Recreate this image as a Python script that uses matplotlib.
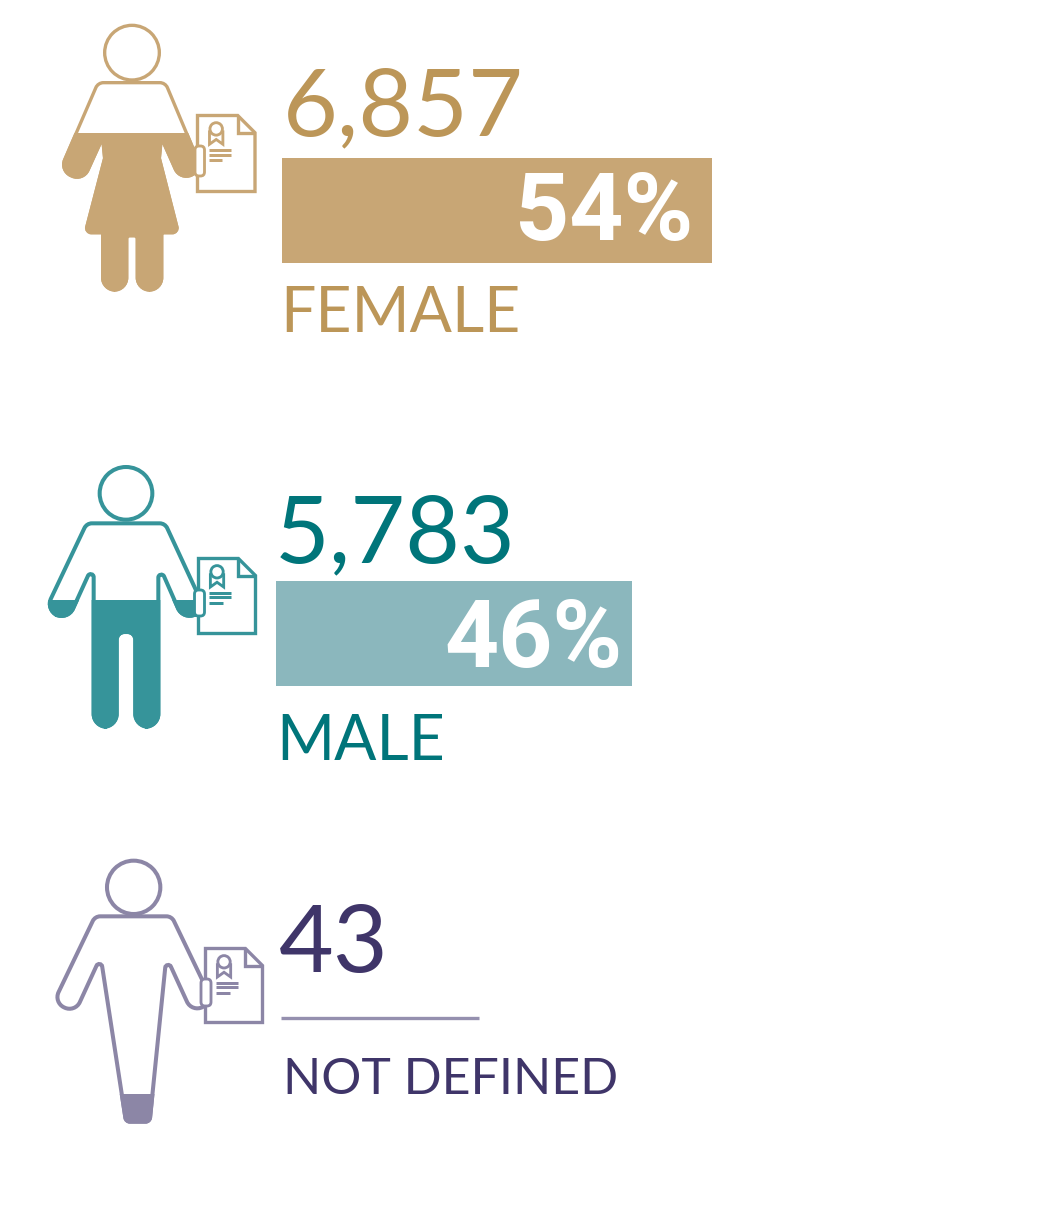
from matplotlib import pyplot as plt
from matplotlib.path import Path
from matplotlib.patches import PathPatch, Circle, Rectangle, FancyBboxPatch
import numpy as np

counts = ['6,857', '5,783', '43']
percents = [54, 46]
percent_labels = ['54%', '46%']
labels = ['FEMALE', 'MALE', 'NOT DEFINED']

FIG_COLORS = ['#C8A675', '#36949A', '#8C86A6']
TEXT_COLORS = ['#BC9658', '#00757A', '#3F3569']
BAR_COLORS = ['#C8A675', '#8BB7BD']
FONT = 'Lato'

W, H = 1063, 1217


def rounded(points):
    # closed polygon, every vertex is (x, y, radius)
    pts = np.array([p[:2] for p in points], dtype=float)
    rad = [p[2] for p in points]
    n = len(pts)
    verts, codes = [], []
    for i in range(n):
        v = pts[i]
        a = pts[i - 1] - v
        b = pts[(i + 1) % n] - v
        a = a / np.hypot(*a)
        b = b / np.hypot(*b)
        turn = np.pi - np.arccos(np.clip(a @ b, -1, 1))
        r = rad[i]
        if r == 0:
            t1, t2 = v, v
            c1, c2 = v, v
        else:
            d = r * np.tan(turn / 2)
            k = 4 / 3 * np.tan(turn / 4) * r
            t1, t2 = v + a * d, v + b * d
            c1, c2 = t1 - a * k, t2 - b * k
        verts.append(t1)
        codes.append(Path.MOVETO if i == 0 else Path.LINETO)
        verts += [c1, c2, t2]
        codes += [Path.CURVE4] * 3
    verts.append(verts[0])
    codes.append(Path.CLOSEPOLY)
    return Path(verts, codes)


def person(ax, outline, head, cut, color, lw, offset):
    # outline and head come in zoom crop units: 3 units per pixel
    pts = [((x / 3 + offset[0]), (y / 3 + offset[1]), r / 3) for x, y, r in outline]
    path = rounded(pts)
    ax.add_patch(PathPatch(path, facecolor='white', edgecolor='none', zorder=2))
    fill = PathPatch(path, facecolor=color, edgecolor=color, lw=lw, zorder=3)
    ax.add_patch(fill)
    fill.set_clip_path(Rectangle((0, cut / 3 + offset[1]), W, H, transform=ax.transData))
    ax.add_patch(PathPatch(path, facecolor='none', edgecolor=color, lw=lw, zorder=3))
    ax.add_patch(Circle((head[0] / 3 + offset[0], head[1] / 3 + offset[1]), head[2] / 3,
                        facecolor='white', edgecolor=color, lw=lw, zorder=4))


def path_patch(pts, color, lw, closed=True):
    codes = [Path.MOVETO] + [Path.LINETO] * (len(pts) - 1)
    verts = list(pts)
    if closed:
        verts.append(pts[0])
        codes.append(Path.CLOSEPOLY)
    return PathPatch(Path(verts, codes), facecolor='white' if closed else 'none', edgecolor=color, lw=lw,
                     zorder=5, joinstyle='miter')


def document(ax, x, y, w, h, grip, color, lw=2.4):
    s = w / 60.0
    fold = 18 * s
    ax.add_patch(path_patch([(x, y), (x + w - fold, y), (x + w, y + fold), (x + w, y + h), (x, y + h)],
                            color, lw))
    ax.add_patch(path_patch([(x + w - fold, y), (x + w - fold, y + fold), (x + w, y + fold)], color, lw, False))
    cx, cy = x + 19.5 * s, y + 14 * s
    rib = [(cx - 7 * s, cy + 3 * s), (cx - 7 * s, cy + 16 * s), (cx, cy + 11 * s),
           (cx + 7 * s, cy + 16 * s), (cx + 7 * s, cy + 3 * s)]
    ax.plot(*zip(*rib), color=color, lw=lw * 0.85, zorder=5, solid_joinstyle='miter')
    ax.add_patch(Circle((cx, cy), 6.5 * s, facecolor='white', edgecolor=color, lw=lw * 0.85, zorder=6))
    for dy, dx in zip((36, 41, 46.5), (23, 23, 14)):
        ax.plot([x + 11.5 * s, x + (11.5 + dx) * s], [y + dy * s, y + dy * s], color=color, lw=lw * 0.9,
                zorder=6, solid_capstyle='butt')
    gx, gy, gw, gh = grip
    ax.add_patch(FancyBboxPatch((gx + 3, gy + 3), gw - 6, gh - 6, boxstyle='round,pad=3,rounding_size=4',
                                facecolor='white', edgecolor=color, lw=lw * 0.85, zorder=7))


def add_bar(fig, left, top, right, bottom, value, color):
    bar_ax = fig.add_axes([left / W, 1 - bottom / H, (right - left) / W, (bottom - top) / H], zorder=0)
    bar_ax.barh([0], [value], height=1, color=color)
    bar_ax.set_xlim(0, value)
    bar_ax.set_ylim(-0.5, 0.5)
    bar_ax.axis('off')


FEMALE_SHAPE = [(174, 218, 25), (376, 218, 25), (486, 480, 36), (421, 511, 36), (364, 383, 1), (358, 445, 0),
                (415, 668, 14), (365, 668, 3), (365, 840, 37), (292, 840, 37), (292, 677, 9), (260, 677, 9),
                (260, 840, 37), (188, 840, 37), (188, 668, 3), (136, 668, 14), (194, 445, 0), (188, 383, 1),
                (129, 513, 36), (60, 482, 36)]
MALE_SHAPE = [(170, 220, 25), (405, 220, 25), (525, 479, 38), (460, 511, 38), (385, 340, 9), (385, 830, 38),
              (316, 830, 38), (316, 546, 23), (260, 546, 23), (260, 830, 38), (191, 830, 38), (191, 340, 9),
              (113, 511, 38), (47, 479, 38)]
OTHER_SHAPE = [(165, 214, 25), (395, 214, 25), (518, 470, 34), (456, 503, 34), (379, 335, 9), (329, 830, 14),
               (258, 830, 14), (182, 335, 9), (105, 503, 34), (41, 472, 34)]

fig = plt.figure(figsize=(W / 100, H / 100), dpi=100, facecolor='white')
add_bar(fig, 282, 158, 712, 263, percents[0], BAR_COLORS[0])
add_bar(fig, 276, 581, 632, 686, percents[1], BAR_COLORS[1])

ax = fig.add_axes([0, 0, 1, 1], zorder=1)
ax.set_xlim(0, W)
ax.set_ylim(H, 0)
ax.axis('off')
ax.patch.set_alpha(0)

person(ax, FEMALE_SHAPE, (276, 128, 82), 370, FIG_COLORS[0], 2.4, (40, 10))
document(ax, 197.5, 115.5, 57.5, 76, (195, 146, 9.5, 30), FIG_COLORS[0])
person(ax, MALE_SHAPE, (288, 130, 79), 450, FIG_COLORS[1], 2.9, (30, 450))
document(ax, 198.5, 558.5, 57, 75, (194.5, 590, 10, 26), FIG_COLORS[1])
person(ax, OTHER_SHAPE, (281, 127, 80), 748, FIG_COLORS[2], 2.9, (40, 845))
document(ax, 205.5, 948.5, 57, 74, (201, 979, 10, 27), FIG_COLORS[2])

ax.plot([281, 479], [1017.5, 1017.5], color='#9590AF', lw=2.4, solid_capstyle='butt')

for x, y, s, c in zip((283, 275, 279), (135, 562, 972), counts, TEXT_COLORS):
    ax.text(x, y, s, color=c, fontsize=68, family=FONT, va='baseline', ha='left')
for x, y, s in zip((693, 623), (240, 667), percent_labels):
    ax.text(x, y, s, color='white', fontsize=68, family='Roboto', weight='bold', va='baseline', ha='right')
for x, y, s, c, fs in zip((280, 276, 283), (332, 760, 1094), labels, TEXT_COLORS, (45, 45, 36)):
    ax.text(x, y, s, color=c, fontsize=fs, family=FONT, va='baseline', ha='left')

fig.savefig('out.png', dpi=100, facecolor='white')
